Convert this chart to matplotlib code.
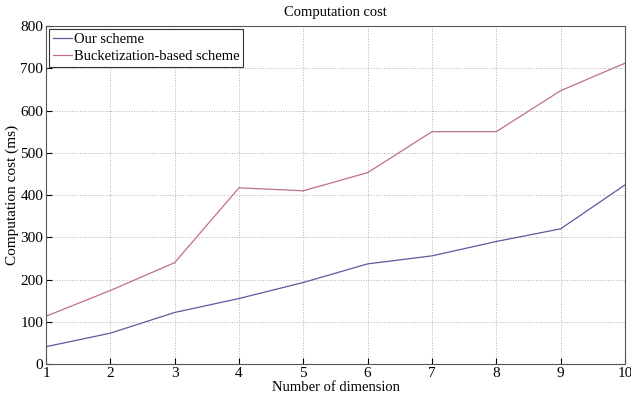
import matplotlib
matplotlib.use("Agg")
from matplotlib import pyplot as plt

# values
dimensions = [1, 2, 3, 4, 5, 6, 7, 8, 9, 10]
our_scheme = [41, 73, 122, 155, 193, 237, 256, 290, 320, 424]
bucket_scheme = [113, 174, 240, 417, 410, 453, 550, 550, 647, 712]

plt.rcParams['font.family'] = ['Liberation Serif', 'DejaVu Serif']

fig = plt.figure(figsize=(6.31, 3.99), dpi=100)
ax = fig.add_axes([0.0729, 0.0877, 0.9176, 0.8471])

ax.plot(dimensions, our_scheme, color='#5a5aa0', lw=0.9, label='Our scheme')
ax.plot(dimensions, bucket_scheme, color='#c07080', lw=0.9, label='Bucketization-based scheme')

ax.set_xlim(1, 10)
ax.set_ylim(0, 800)
ax.set_xticks(dimensions)
ax.set_yticks(range(0, 801, 100))
ax.tick_params(direction='in', labelsize=11, length=4, pad=2)
ax.grid(True, linestyle=':', color='#b0b0b0', lw=0.7)
for s in ax.spines.values():
    s.set_color('#555555')

ax.set_title('Computation cost', fontsize=10.5, pad=7)
ax.set_xlabel('Number of dimension', fontsize=10.5, labelpad=1)
ax.set_ylabel('Computation cost (ms)', fontsize=11, labelpad=1)

leg = ax.legend(loc='upper left', fontsize=10.5, fancybox=False, framealpha=1,
                edgecolor='#333333', borderpad=0.25, handlelength=1.3,
                handletextpad=0.15, labelspacing=0.3, borderaxespad=0.2)
leg.get_frame().set_linewidth(0.8)

plt.savefig('out.png', dpi=100)
